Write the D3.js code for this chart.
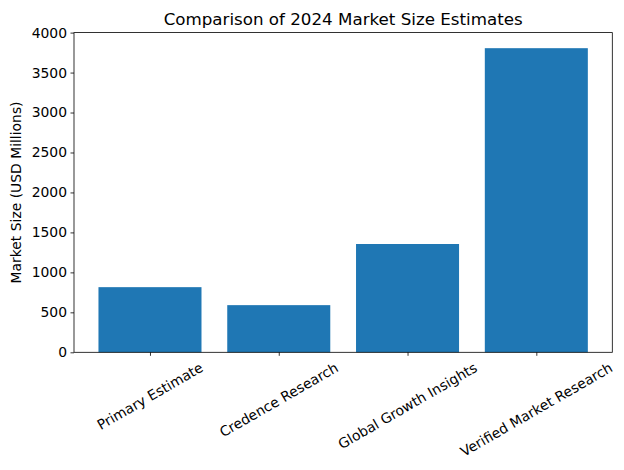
<!DOCTYPE html>
<html><head><meta charset="utf-8">
<script src="https://cdn.jsdelivr.net/npm/d3@7"></script>
<style>body{margin:0;background:#fff;}svg{display:block;font-family:"DejaVu Sans",sans-serif;}</style>
</head><body><div id="chart"></div>
<script>
const categories = ["Primary Estimate", "Credence Research", "Global Growth Insights", "Verified Market Research"];
const values = [815, 590, 1355, 3805];
const yTicks = [0, 500, 1000, 1500, 2000, 2500, 3000, 3500, 4000];
const title = "Comparison of 2024 Market Size Estimates";
const yLabel = "Market Size (USD Millions)";

const W = 624, H = 470;
const L = 74, R = 612.3, T = 32.6, B = 352.3;
const svg = d3.select("#chart").append("svg").attr("width", W).attr("height", H);

const x = d3.scaleLinear().domain([-0.59, categories.length - 1 + 0.59]).range([L, R]);
const y = d3.scaleLinear().domain([0, 4000]).range([B, T]);
const bw = 0.8;

svg.append("g").selectAll("rect").data(values).join("rect")
  .attr("x", (d, i) => x(i - bw / 2))
  .attr("width", (d, i) => x(i + bw / 2) - x(i - bw / 2))
  .attr("y", d => y(d))
  .attr("height", d => y(0) - y(d))
  .attr("fill", "#1f77b4");

// y axis
const ya = svg.append("g").attr("transform", `translate(${L},0)`)
  .call(d3.axisLeft(y).tickValues(yTicks).tickFormat(d3.format("d")).tickSize(3.5).tickPadding(3.5));
ya.select(".domain").remove();
ya.selectAll("text").attr("font-size", "13.9px").attr("fill", "#000").attr("font-family", "DejaVu Sans");
ya.selectAll("line").attr("stroke", "#000").attr("stroke-width", 0.8);

// x axis ticks
const xa = svg.append("g").attr("transform", `translate(0,${B})`)
  .call(d3.axisBottom(x).tickValues(d3.range(categories.length)).tickFormat(() => "").tickSize(3.5));
xa.select(".domain").remove();
xa.selectAll("line").attr("stroke", "#000").attr("stroke-width", 0.8);

// rotated labels
const fs = 13.9;
categories.forEach((c, i) => {
  const t = svg.append("text").text(c).attr("font-size", fs + "px").attr("fill", "#000")
    .attr("text-anchor", "middle").attr("dominant-baseline", "central");
  const w = t.node().getComputedTextLength();
  const h = fs * 1.15;
  const boxH = w * 0.5 + h * Math.cos(Math.PI / 6);
  const cy = B + 3.5 + 3.5 + boxH / 2;
  const cx = x(i);
  t.attr("x", cx).attr("y", cy).attr("transform", `rotate(-30,${cx},${cy})`);
});

// frame
svg.append("rect").attr("x", L).attr("y", T).attr("width", R - L).attr("height", B - T)
  .attr("fill", "none").attr("stroke", "#000").attr("stroke-width", 0.8);

svg.append("text").text(title).attr("x", (L + R) / 2).attr("y", T - 8)
  .attr("text-anchor", "middle").attr("font-size", "16.7px").attr("fill", "#000");

svg.append("text").text(yLabel).attr("transform", `translate(21,${(T + B) / 2}) rotate(-90)`)
  .attr("text-anchor", "middle").attr("font-size", "13.9px").attr("fill", "#000");
</script></body></html>
